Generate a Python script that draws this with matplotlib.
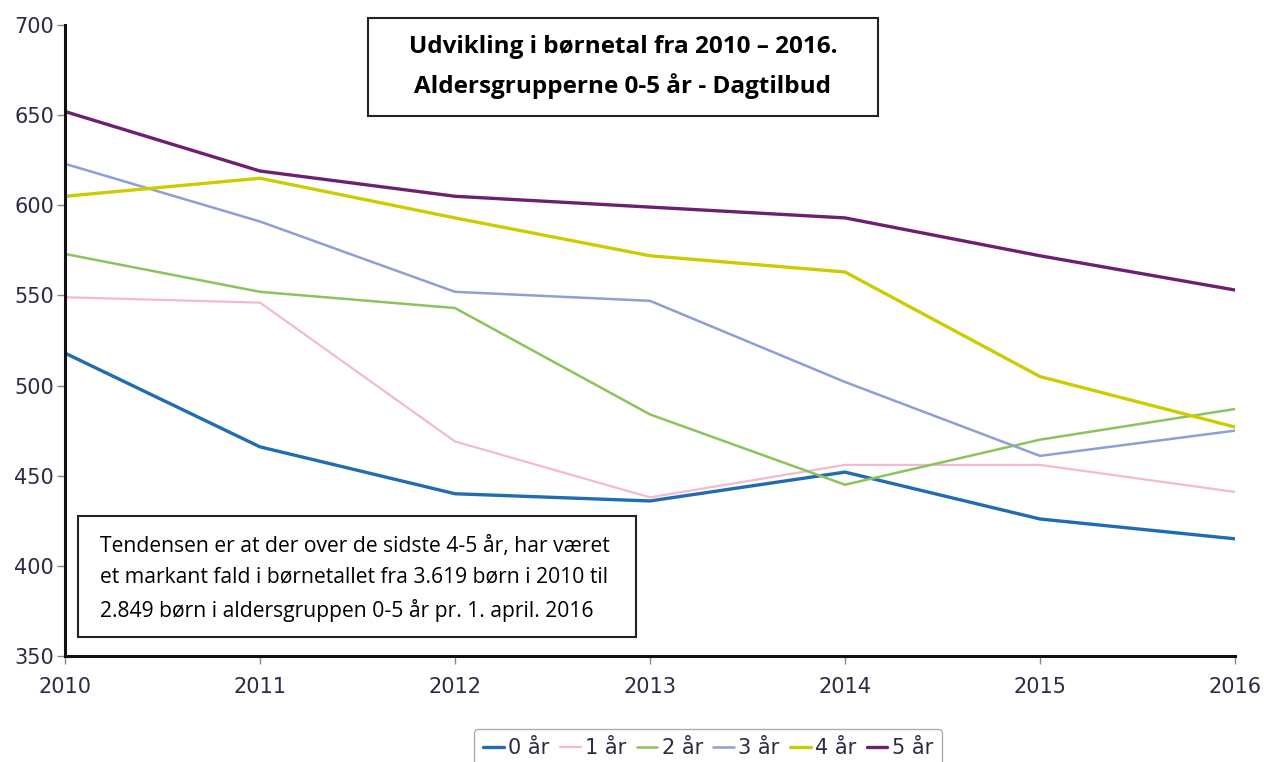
import matplotlib
matplotlib.use("Agg")
import matplotlib.pyplot as plt
from matplotlib.patches import Rectangle

years = [2010, 2011, 2012, 2013, 2014, 2015, 2016]
labels = ["0 år", "1 år", "2 år", "3 år", "4 år", "5 år"]
age0 = [518, 466, 440, 436, 452, 426, 415]
age1 = [549, 546, 469, 438, 456, 456, 441]
age2 = [573, 552, 543, 484, 445, 470, 487]
age3 = [623, 591, 552, 547, 502, 461, 475]
age4 = [605, 615, 593, 572, 563, 505, 477]
age5 = [652, 619, 605, 599, 593, 572, 553]
series = [age0, age1, age2, age3, age4, age5]
colors = ["#1f6cb3", "#f5b9d3", "#8cc35b", "#8e9fd5", "#cccc00", "#6e1f6f"]
widths = [2.4, 1.6, 1.8, 1.8, 2.4, 2.4]

W, H = 1264, 762
fig = plt.figure(figsize=(W/100, H/100), dpi=100)
ax = fig.add_axes([65/W, 1-656/H, (1235-65)/W, (656-25)/H])

for s, c, w, l in zip(series, colors, widths, labels):
    ax.plot(years, s, color=c, lw=w, label=l, solid_capstyle="round")

ax.set_xlim(2010, 2016)
ax.set_ylim(350, 700)
ax.set_xticks(years)
ax.set_yticks([350, 400, 450, 500, 550, 600, 650, 700])
for sp in ["top", "right"]:
    ax.spines[sp].set_visible(False)
for sp in ["left", "bottom"]:
    ax.spines[sp].set_linewidth(2.2)
    ax.spines[sp].set_color("#111111")
ax.tick_params(axis="both", colors="#888888", length=6, width=1,
               labelcolor="#2b2b45", labelsize=15)
ax.tick_params(axis="x", pad=9)
ax.tick_params(axis="y", pad=2)

def box(x0, y0, x1, y1):
    fig.patches.append(Rectangle((x0/W, 1-y1/H), (x1-x0)/W, (y1-y0)/H,
                                 transform=fig.transFigure, fc="white",
                                 ec="#222222", lw=1.5, zorder=5))

# Title box
box(368, 18, 878, 116)
fig.text(623/W, 1-67/H,
         "Udvikling i børnetal fra 2010 – 2016.\nAldersgrupperne 0-5 år - Dagtilbud",
         ha="center", va="center", fontsize=17.5, fontweight="bold",
         family="Open Sans", linespacing=1.75, zorder=6)

# Annotation box
box(78, 516, 636, 637)
fig.text(100/W, 1-579/H,
         "Tendensen er at der over de sidste 4-5 år, har været\n"
         "et markant fald i børnetallet fra 3.619 børn i 2010 til\n"
         "2.849 børn i aldersgruppen 0-5 år pr. 1. april. 2016",
         ha="left", va="center", fontsize=15.2, family="Open Sans",
         linespacing=1.62, zorder=6)

leg = fig.legend(loc="upper center", bbox_to_anchor=(708/W, 1-729/H),
                 ncol=6, frameon=True, fontsize=15, handlelength=1.0,
                 handletextpad=0.2, columnspacing=0.5, borderpad=0.45,
                 borderaxespad=0, fancybox=True, edgecolor="#999999")
for t in leg.get_texts():
    t.set_color("#2b2b45")

fig.savefig("out.png", dpi=100)
